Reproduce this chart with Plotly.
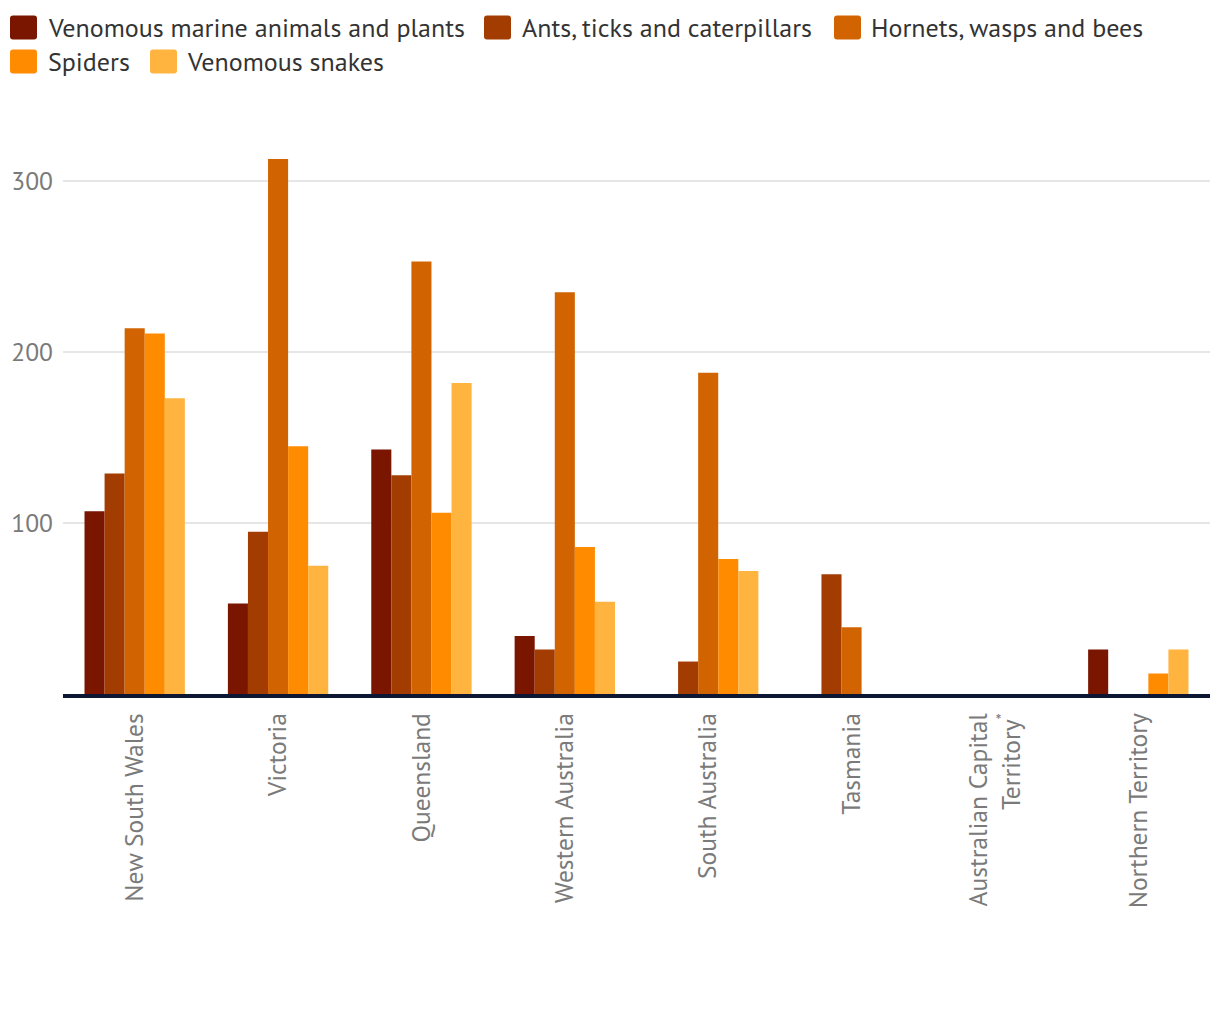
import plotly.graph_objects as go

categories = ["New South Wales", "Victoria", "Queensland", "Western Australia",
              "South Australia", "Tasmania", "Australian Capital<br>Territory<sup>*</sup>",
              "Northern Territory"]
series_names = ["Venomous marine animals and plants", "Ants, ticks and caterpillars",
                "Hornets, wasps and bees", "Spiders", "Venomous snakes"]
marine = [107, 53, 143, 34, 0, 0, 0, 26]
ants = [129, 95, 128, 26, 19, 70, 0, 0]
hornets = [214, 313, 253, 235, 188, 39, 0, 0]
spiders = [211, 145, 106, 86, 79, 0, 0, 12]
snakes = [173, 75, 182, 54, 72, 0, 0, 26]
colors = ["#7a1500", "#a33c00", "#d16400", "#ff8c00", "#ffb43f"]
y_ticks = [100, 200, 300]

FONT = "PT Sans, Lato, Open Sans, sans-serif"

# layout geometry (pixels)
W, H = 1220, 1020
ML, MR, MT, MB = 55, 18, 122, 334
PW = W - ML - MR
PH = H - MT - MB
OFF = 8  # page body offset


def px_to_paper(x, y):
    return (x - OFF - ML) / PW, (H - MB - (y - OFF)) / PH


fig = go.Figure()
for name, vals, c in zip(series_names, [marine, ants, hornets, spiders, snakes], colors):
    fig.add_trace(go.Bar(x=categories, y=vals, name=name, marker_color=c,
                         marker_line_width=0, showlegend=False))

# manual legend: swatch left x, text left x, row centre y (page pixels)
legend_pos = [(10, 49, 27.5), (484, 523, 27.5), (834, 872, 27.5), (10, 49, 61.5), (150, 188, 61.5)]
shapes = []
annotations = []
SW, SH, R = 27, 24, 3
for name, c, (sx, tx, cy) in zip(series_names, colors, legend_pos):
    x0, y0 = sx, cy - SH / 2
    x1, y1 = sx + SW, cy + SH / 2
    pts = [(x0 + R, y0), (x1 - R, y0), (x1, y0), (x1, y0 + R), (x1, y1 - R), (x1, y1),
           (x1 - R, y1), (x0 + R, y1), (x0, y1), (x0, y1 - R), (x0, y0 + R), (x0, y0), (x0 + R, y0)]
    p = [px_to_paper(*q) for q in pts]
    path = (f"M{p[0][0]},{p[0][1]} L{p[1][0]},{p[1][1]} Q{p[2][0]},{p[2][1]} {p[3][0]},{p[3][1]} "
            f"L{p[4][0]},{p[4][1]} Q{p[5][0]},{p[5][1]} {p[6][0]},{p[6][1]} "
            f"L{p[7][0]},{p[7][1]} Q{p[8][0]},{p[8][1]} {p[9][0]},{p[9][1]} "
            f"L{p[10][0]},{p[10][1]} Q{p[11][0]},{p[11][1]} {p[12][0]},{p[12][1]} Z")
    shapes.append(dict(type="path", xref="paper", yref="paper", path=path,
                       fillcolor=c, line=dict(width=0)))
    ax, ay = px_to_paper(tx - 3, cy)
    annotations.append(dict(xref="paper", yref="paper", x=ax, y=ay, xanchor="left",
                            yanchor="middle", text=name, showarrow=False,
                            font=dict(family=FONT, size=26, color="#333333")))

fig.update_layout(
    width=W, height=H,
    margin=dict(l=ML, r=MR, t=MT, b=MB),
    paper_bgcolor="white", plot_bgcolor="white",
    barmode="group", bargap=0.30, bargroupgap=0,
    font=dict(family=FONT, size=22, color="#333333"),
    showlegend=False,
    shapes=shapes, annotations=annotations,
    xaxis=dict(tickangle=-90, tickfont=dict(size=25.5, color="#7a7a7a"),
               showline=True, linecolor="#0d1733", linewidth=4,
               ticks="", showgrid=False, automargin=False, ticklabelstandoff=5),
    yaxis=dict(range=[0, 330], tickvals=y_ticks, showgrid=True, gridcolor="#e6e6e6",
               gridwidth=2, zeroline=False, tickfont=dict(size=25.5, color="#7a7a7a"),
               ticks="", showline=False, automargin=False, ticklabelstandoff=9),
)
fig.write_html("out.html")
